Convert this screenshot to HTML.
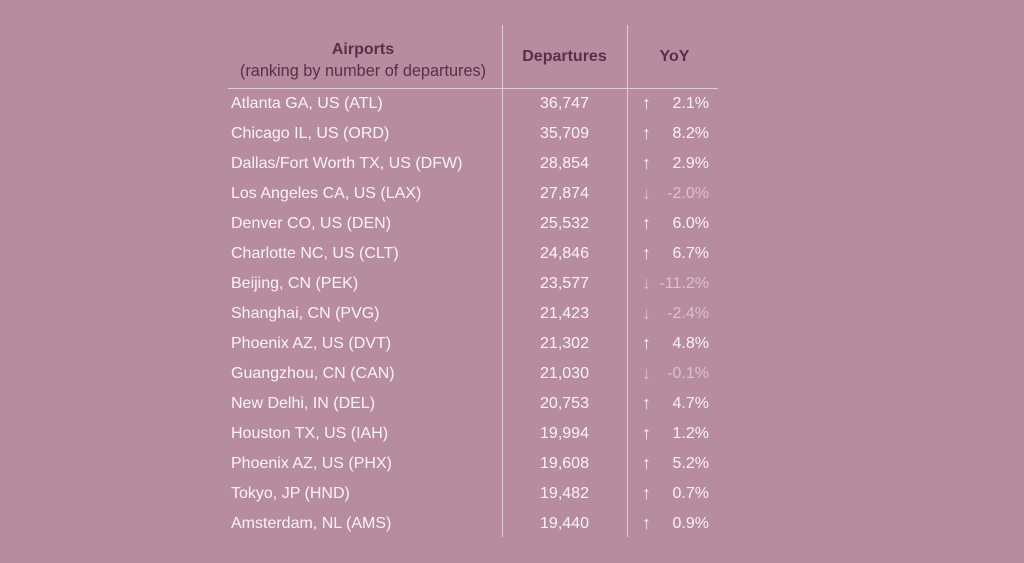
<!DOCTYPE html>
<html><head><style>
body{margin:0;width:1024px;height:563px;background:#b68c9e;font-family:"Liberation Sans",sans-serif;position:relative;overflow:hidden}
.v{position:absolute;top:25px;width:1px;height:512px;background:#e2ccd6}
.h{position:absolute;left:228px;top:88px;width:490px;height:1px;background:#e2ccd6}
.t{position:absolute;white-space:nowrap;font-size:16px;color:#fbf4f7}
.hd{color:#5e2d48;font-weight:bold;font-size:16px}
.neg{color:#dcc0cc}
.ar{font-size:18px}
</style></head><body>
<div class="v" style="left:502px"></div>
<div class="v" style="left:627px"></div>
<div class="h"></div>
<div class="t hd" style="left:228px;width:270px;text-align:center;top:41px">Airports</div>
<div class="t" style="left:228px;width:270px;text-align:center;top:62px;color:#5e2d48;font-size:16.3px">(ranking by number of departures)</div>
<div class="t hd" style="left:502px;width:125px;text-align:center;top:48px">Departures</div>
<div class="t hd" style="left:627px;width:95px;text-align:center;top:48px">YoY</div>
<div id="rows"></div>
<script>
var d=[["Atlanta GA, US (ATL)","36,747","2.1%",1],["Chicago IL, US (ORD)","35,709","8.2%",1],["Dallas/Fort Worth TX, US (DFW)","28,854","2.9%",1],["Los Angeles CA, US (LAX)","27,874","-2.0%",0],["Denver CO, US (DEN)","25,532","6.0%",1],["Charlotte NC, US (CLT)","24,846","6.7%",1],["Beijing, CN (PEK)","23,577","-11.2%",0],["Shanghai, CN (PVG)","21,423","-2.4%",0],["Phoenix AZ, US (DVT)","21,302","4.8%",1],["Guangzhou, CN (CAN)","21,030","-0.1%",0],["New Delhi, IN (DEL)","20,753","4.7%",1],["Houston TX, US (IAH)","19,994","1.2%",1],["Phoenix AZ, US (PHX)","19,608","5.2%",1],["Tokyo, JP (HND)","19,482","0.7%",1],["Amsterdam, NL (AMS)","19,440","0.9%",1]];
var h="";d.forEach(function(r,i){var y=95+i*30;var c=r[3]?"":" neg";
h+='<div class="t" style="left:231px;top:'+y+'px">'+r[0]+'</div>';
h+='<div class="t" style="left:502px;width:125px;text-align:center;top:'+y+'px">'+r[1]+'</div>';
h+='<div class="t ar'+c+'" style="left:642px;top:'+(y-2)+'px">'+(r[3]?"↑":"↓")+'</div>';
h+='<div class="t'+c+'" style="left:640px;width:69px;text-align:right;top:'+y+'px">'+r[2]+'</div>';});
document.getElementById("rows").innerHTML=h;
</script>
</body></html>
